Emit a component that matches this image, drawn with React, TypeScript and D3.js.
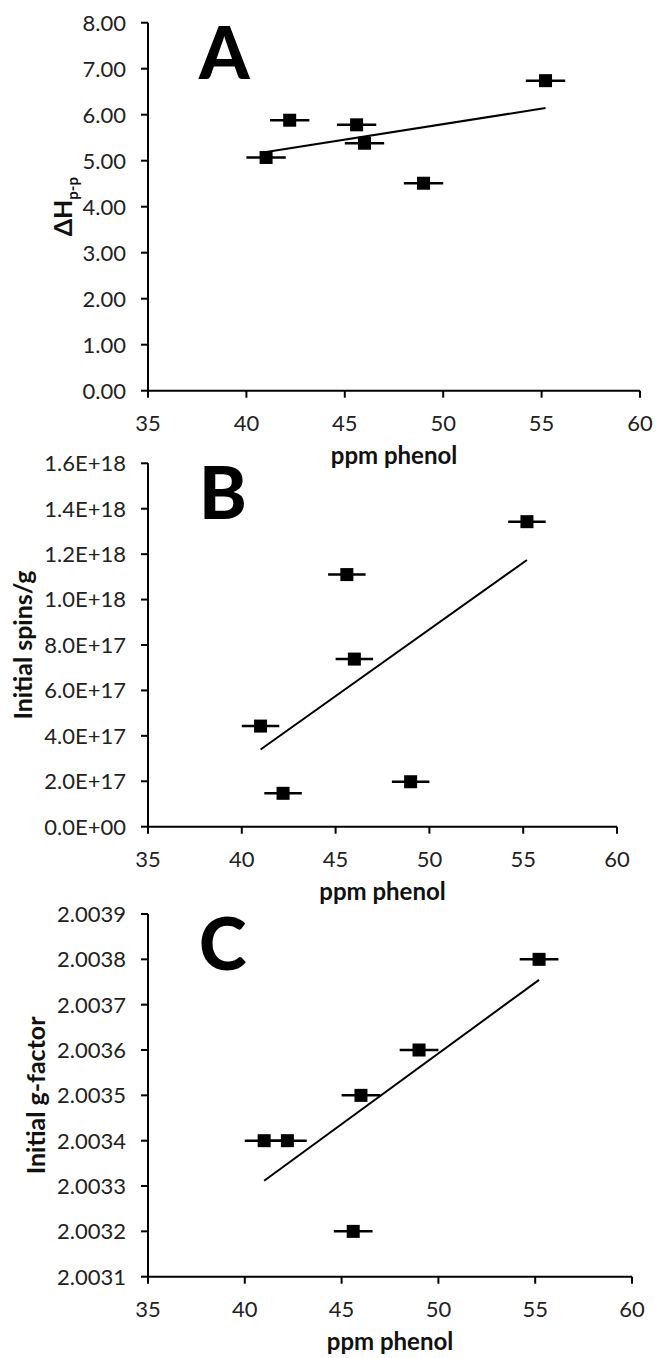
import React from "react";
import * as d3 from "d3";

// ---- data ----
const PPM_PHENOL = [41.0, 42.2, 45.6, 46.0, 49.0, 55.2];
const PPM_ERROR = [1.0, 1.0, 1.0, 1.0, 1.0, 1.0];
const DELTA_HPP = [5.07, 5.88, 5.78, 5.38, 4.51, 6.74];
const INITIAL_SPINS = [4.43e17, 1.47e17, 1.11e18, 7.38e17, 1.98e17, 1.343e18];
const INITIAL_G = [2.0034, 2.0034, 2.0032, 2.0035, 2.0036, 2.0038];

const X_TICKS = [35, 40, 45, 50, 55, 60];
const A_TICKS = [0, 1, 2, 3, 4, 5, 6, 7, 8];
const B_TICKS = [0, 2e17, 4e17, 6e17, 8e17, 1e18, 1.2e18, 1.4e18, 1.6e18];
const C_TICKS = [2.0031, 2.0032, 2.0033, 2.0034, 2.0035, 2.0036, 2.0037, 2.0038, 2.0039];

const FONT = "Lato, 'Open Sans', sans-serif";

function fmtSci(v: number) {
  if (v === 0) return "0.0E+00";
  return v.toExponential(1).toUpperCase();
}

function regression(xs: number[], ys: number[]) {
  const mx = d3.mean(xs)!;
  const my = d3.mean(ys)!;
  let sxy = 0, sxx = 0;
  xs.forEach((x, i) => {
    sxy += (x - mx) * (ys[i] - my);
    sxx += (x - mx) * (x - mx);
  });
  const slope = sxy / sxx;
  return (x: number) => my + slope * (x - mx);
}

type PanelProps = {
  left: number; right: number; top: number; bottom: number;
  yTicks: number[]; yFmt: (v: number) => string;
  ys: number[]; letter: string; title: React.ReactNode; titleX: number;
};

function Panel(p: PanelProps) {
  const x = d3.scaleLinear().domain([35, 60]).range([p.left, p.right]);
  const yDom = d3.extent(p.yTicks) as [number, number];
  const y = d3.scaleLinear().domain(yDom).range([p.bottom, p.top]);
  const fit = regression(PPM_PHENOL, p.ys);
  const x0 = d3.min(PPM_PHENOL)!;
  const x1 = d3.max(PPM_PHENOL)!;
  const line = d3.line<number>().x((d) => x(d)).y((d) => y(fit(d)));
  const ms = 13;
  return (
    <g>
      <line x1={p.left} x2={p.left} y1={p.top} y2={p.bottom} stroke="#000" strokeWidth={2} />
      <line x1={p.left} x2={p.right} y1={p.bottom} y2={p.bottom} stroke="#000" strokeWidth={2} />
      {p.yTicks.map((t, i) => (
        <g key={"y" + i}>
          <line x1={p.left - 7} x2={p.left} y1={y(t)} y2={y(t)} stroke="#000" strokeWidth={2} />
          <text x={p.left - 22} y={y(t)} dy="0.36em" textAnchor="end" fontSize={22} fontFamily={FONT} fill="#222">
            {p.yFmt(t)}
          </text>
        </g>
      ))}
      {X_TICKS.map((t, i) => (
        <g key={"x" + i}>
          <line x1={x(t)} x2={x(t)} y1={p.bottom} y2={p.bottom + 7} stroke="#000" strokeWidth={2} />
          <text x={x(t)} y={p.bottom + 40} textAnchor="middle" fontSize={22} fontFamily={FONT} fill="#222">
            {t}
          </text>
        </g>
      ))}
      <text x={(p.left + p.right) / 2} y={p.bottom + 73} textAnchor="middle" fontSize={24} fontWeight="bold" fontFamily={FONT} fill="#111">
        ppm phenol
      </text>
      <text
        transform={`translate(${p.titleX},${(p.top + p.bottom) / 2}) rotate(-90)`}
        textAnchor="middle" fontSize={25} fontWeight="bold" fontFamily={FONT} fill="#111"
      >
        {p.title}
      </text>
      <text x={199} y={p.top + 56} fontSize={72} fontWeight={900} fontFamily={FONT} fill="#000">
        {p.letter}
      </text>
      <path d={line([x0, x1]) || ""} stroke="#000" strokeWidth={2} fill="none" />
      {PPM_PHENOL.map((v, i) => (
        <g key={"p" + i}>
          <line x1={x(v - PPM_ERROR[i])} x2={x(v + PPM_ERROR[i])} y1={y(p.ys[i])} y2={y(p.ys[i])} stroke="#000" strokeWidth={2.5} />
          <rect x={x(v) - ms / 2} y={y(p.ys[i]) - ms / 2} width={ms} height={ms} fill="#000" />
        </g>
      ))}
    </g>
  );
}

export default function App() {
  return (
    <svg width={672} height={1358} style={{ position: "absolute", left: 0, top: 0, background: "#fff" }}>
      <rect width={672} height={1358} fill="#fff" />
      <Panel
        left={148} right={640} top={22.7} bottom={390.7}
        yTicks={A_TICKS} yFmt={d3.format(".2f")} ys={DELTA_HPP} letter="A" titleX={72}
        title={<>
          <tspan>ΔH</tspan>
          <tspan fontSize={15} dy={6}>p-p</tspan>
        </>}
      />
      <Panel
        left={148} right={617} top={463.3} bottom={826.7}
        yTicks={B_TICKS} yFmt={fmtSci} ys={INITIAL_SPINS} letter="B" titleX={32}
        title="Initial spins/g"
      />
      <Panel
        left={148} right={632} top={914} bottom={1276.7}
        yTicks={C_TICKS} yFmt={d3.format(".4f")} ys={INITIAL_G} letter="C" titleX={45}
        title="Initial g-factor"
      />
    </svg>
  );
}
